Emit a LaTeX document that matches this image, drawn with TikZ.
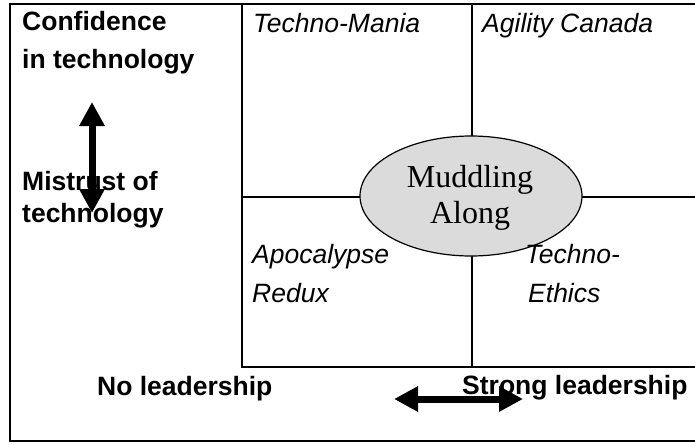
\documentclass[tikz,border=0pt]{standalone}
\usepackage{fontspec}
\setmainfont{Liberation Sans}
\newfontfamily\labfont{Liberation Sans}
\newfontfamily\ovalfont{Liberation Serif}
\usetikzlibrary{arrows.meta,shapes.geometric}

\begin{document}
\begin{tikzpicture}[x=1pt,y=-1pt,
  axislabel/.style={anchor=base west, inner sep=0pt,
    font=\labfont\bfseries\fontsize{26.5}{26.5}\selectfont},
  quadlabel/.style={anchor=base west, inner sep=0pt,
    font=\labfont\itshape\fontsize{26.5}{26.5}\selectfont},
  ovaltext/.style={anchor=base, inner sep=0pt,
    font=\ovalfont\fontsize{32}{32}\selectfont},
  oval/.style={ellipse, draw=black, line width=1.2pt, fill=gray!28,
    minimum width=222pt, minimum height=120pt, inner sep=0pt},
  frameline/.style={line width=2pt},
  gridline/.style={line width=1.2pt},
  bigarrow/.style={line width=7pt,
    {Triangle[length=24pt,width=24pt]}-{Triangle[length=24pt,width=24pt]}}]

  % canvas
  \useasboundingbox (0,0) rectangle (695,444);
  \clip (0,0) rectangle (695,444);

  % outer frame
  \draw[frameline] (10,4) rectangle (720,441);

  % quadrant grid
  \draw[gridline] (242,4) rectangle (720,367);
  \draw[gridline] (472,4) -- (472,367);
  \draw[gridline] (242,197) -- (720,197);

  % middle scenario
  \node[oval] (muddle) at (471,196) {};
  \node[ovaltext] (muddleA) at (470,187) {Muddling};
  \node[ovaltext] (muddleB) at (470,223) {Along};

  % vertical axis labels
  \node[axislabel] (conf1) at (22,31) {Confidence};
  \node[axislabel] (conf2) at (22,68) {in technology};
  \node[axislabel] (mis1) at (22,190) {Mistrust of};
  \node[axislabel] (mis2) at (22,222) {technology};

  % horizontal axis labels
  \node[axislabel] (nolead) at (97,395) {No leadership};
  \node[axislabel] (stronglead) at (462,394) {Strong leadership};

  % quadrant names
  \node[quadlabel] (tm) at (253,33) {Techno-Mania};
  \node[quadlabel] (ac) at (482,33) {Agility Canada};
  \node[quadlabel] (ar1) at (252,263) {Apocalypse};
  \node[quadlabel] (ar2) at (252,302) {Redux};
  \node[quadlabel] (te1) at (525,263) {Techno-};
  \node[quadlabel] (te2) at (528,302) {Ethics};

  % axis arrows
  \coordinate (vtop) at (92,102);
  \coordinate (vbot) at (92,213);
  \coordinate (hleft) at (394,399);
  \coordinate (hright) at (523,399);
  \draw[bigarrow] (vtop) -- (vbot);
  \draw[bigarrow] (hleft) -- (hright);
\end{tikzpicture}
\end{document}
